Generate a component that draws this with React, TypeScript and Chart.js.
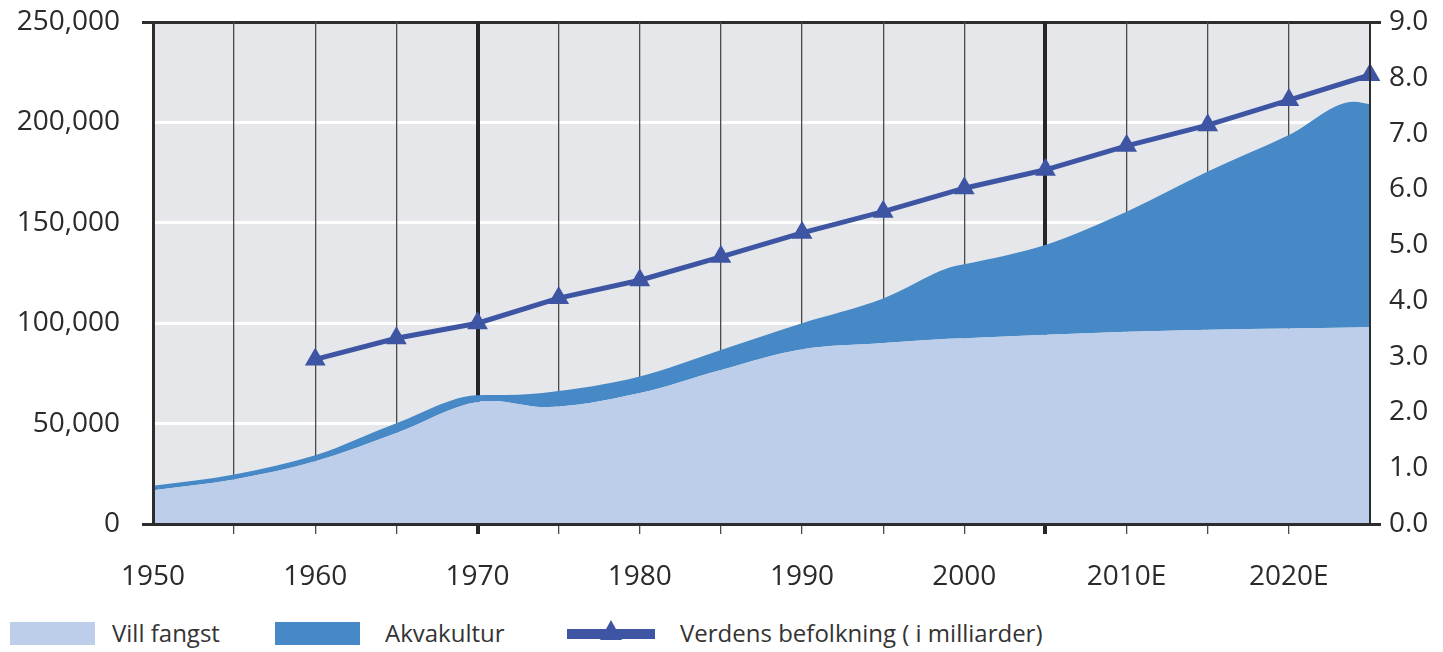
import React, { useEffect, useRef } from 'react';
import { Chart, registerables } from 'chart.js';

Chart.register(...registerables);

// ---- data ----
const fishYears = [1950, 1955, 1960, 1965, 1970, 1971, 1974, 1980, 1985, 1990, 1995, 1999, 2000, 2005, 2010, 2015, 2020, 2024, 2025];
const villFangst = [16800, 22200, 31200, 45300, 60800, 61200, 58200, 65200, 76700, 87000, 90100, 92200, 92500, 94200, 95800, 96800, 97400, 97900, 98000];
const akvakultur = [2200, 2500, 3000, 4900, 3300, 3000, 7100, 8300, 10000, 13000, 22200, 35300, 36800, 44800, 59700, 78700, 96300, 112400, 111000];

const popYears = [1960, 1965, 1970, 1975, 1980, 1985, 1990, 1995, 2000, 2005, 2010, 2015, 2020, 2025];
const befolkning = [2.95, 3.33, 3.6, 4.05, 4.37, 4.79, 5.22, 5.6, 6.02, 6.35, 6.78, 7.15, 7.6, 8.05];

const xLabelYears = [1950, 1960, 1970, 1980, 1990, 2000, 2010, 2020];
const xLabelTexts = ['1950', '1960', '1970', '1980', '1990', '2000', '2010E', '2020E'];
const markerYears = [1970, 2005];

const legendLabels = ['Vill fangst', 'Akvakultur', 'Verdens befolkning ( i milliarder)'];

// ---- style ----
const LIGHT = '#bccee9';
const DARK = '#4689c6';
const LINE = '#3e55a4';
const AXIS = '#2d2d2d';
const TEXT = '#2a2a2a';
const PLOT_BG = '#e5e7ea';
const FONT = '"Open Sans", "Noto Sans", sans-serif';

const plotBg = {
  id: 'plotBg',
  beforeDraw(chart: any) {
    const { ctx, chartArea: a } = chart;
    ctx.save();
    ctx.fillStyle = PLOT_BG;
    ctx.fillRect(a.left, a.top, a.right - a.left, a.bottom - a.top);
    ctx.restore();
  },
};

export default function App() {
  const ref = useRef<HTMLCanvasElement | null>(null);

  useEffect(() => {
    if (!ref.current) return;
    const chart = new Chart(ref.current, {
      type: 'line',
      data: {
        datasets: [
          {
            label: legendLabels[2],
            data: popYears.map((x, i) => ({ x, y: befolkning[i] })),
            yAxisID: 'y1',
            borderColor: LINE,
            backgroundColor: LINE,
            borderWidth: 5,
            pointStyle: 'triangle',
            pointRadius: 12,
            pointBorderWidth: 0,
            pointBackgroundColor: LINE,
            tension: 0,
            fill: false,
            clip: false,
          },
          {
            label: legendLabels[0],
            data: fishYears.map((x, i) => ({ x, y: villFangst[i] })),
            yAxisID: 'y',
            borderWidth: 0,
            borderColor: LIGHT,
            backgroundColor: LIGHT,
            pointRadius: 0,
            cubicInterpolationMode: 'monotone',
            fill: 'origin',
          },
          {
            label: legendLabels[1],
            data: fishYears.map((x, i) => ({ x, y: akvakultur[i] })),
            yAxisID: 'y',
            borderWidth: 0,
            borderColor: DARK,
            backgroundColor: DARK,
            pointRadius: 0,
            cubicInterpolationMode: 'monotone',
            fill: '-1',
          },
        ],
      },
      options: {
        responsive: false,
        animation: false,
        layout: { padding: { top: 22, left: 0, right: 0, bottom: 0 } },
        plugins: { legend: { display: false }, tooltip: { enabled: false } },
        scales: {
          y: {
            type: 'linear',
            position: 'left',
            stacked: true,
            min: 0,
            max: 250000,
            afterFit(s: any) { s.width = 153; s.paddingTop = 0; s.paddingBottom = 0; },
            grid: {
              z: -2,
              color: (c: any) => (c.tick && (c.tick.value === 0 || c.tick.value === 250000) ? AXIS : '#ffffff'),
              lineWidth: 3,
              tickLength: 11,
              tickColor: (c: any) => (c.tick && (c.tick.value === 0 || c.tick.value === 250000) ? AXIS : 'rgba(0,0,0,0)'),
            },
            border: { display: true, color: AXIS, width: 3, z: 1 },
            ticks: {
              stepSize: 50000,
              padding: 22,
              color: TEXT,
              font: { family: FONT, size: 28 },
              callback: (v: any) => Number(v).toLocaleString('en-US'),
            },
          },
          y1: {
            type: 'linear',
            position: 'right',
            min: 0,
            max: 9,
            afterFit(s: any) { s.width = 73; s.paddingTop = 0; s.paddingBottom = 0; },
            grid: {
              drawOnChartArea: false,
              tickLength: 11,
              lineWidth: 3,
              color: (c: any) => (c.tick && (c.tick.value === 0 || c.tick.value === 9) ? AXIS : 'rgba(0,0,0,0)'),
            },
            border: { display: true, color: AXIS, width: 2, z: 1 },
            ticks: {
              stepSize: 1,
              padding: 8,
              color: TEXT,
              font: { family: FONT, size: 28 },
              callback: (v: any) => Number(v).toFixed(1),
            },
          },
          x: {
            type: 'linear',
            min: 1950,
            max: 2025,
            afterFit(s: any) { s.height = 76; s.paddingLeft = 0; s.paddingRight = 0; },
            grid: {
              z: -1,
              tickLength: 10,
              color: (c: any) => {
                const v = c.tick ? c.tick.value : 0;
                if (v === 1950 || v === 2025) return 'rgba(0,0,0,0)';
                return markerYears.includes(v) ? '#262626' : '#4a4a4a';
              },
              lineWidth: (c: any) => {
                const v = c.tick ? c.tick.value : 0;
                return markerYears.includes(v) ? 4 : 1.3;
              },
            },
            border: { display: true, color: AXIS, width: 3, z: 1 },
            ticks: {
              stepSize: 5,
              autoSkip: false,
              maxRotation: 0,
              padding: 26,
              color: TEXT,
              font: { family: FONT, size: 28 },
              callback: (v: any) => {
                const i = xLabelYears.indexOf(Number(v));
                return i >= 0 ? xLabelTexts[i] : '';
              },
            },
          },
        },
      },
      plugins: [plotBg],
    } as any);
    return () => chart.destroy();
  }, []);

  const legendText: React.CSSProperties = {
    position: 'absolute',
    top: 614,
    height: 38,
    lineHeight: '38px',
    fontFamily: FONT,
    fontSize: 24,
    color: '#333',
    whiteSpace: 'nowrap',
  };

  return (
    <div style={{ position: 'absolute', left: 0, top: 0, width: 1443, height: 652, background: '#fff', overflow: 'hidden' }}>
      <canvas ref={ref} width={1443} height={600} style={{ position: 'absolute', left: 0, top: 0 }} />
      <div style={{ position: 'absolute', left: 10, top: 622, width: 85, height: 23, background: LIGHT }} />
      <div style={{ ...legendText, left: 112 }}>{legendLabels[0]}</div>
      <div style={{ position: 'absolute', left: 275, top: 622, width: 85, height: 23, background: DARK }} />
      <div style={{ ...legendText, left: 385 }}>{legendLabels[1]}</div>
      <div style={{ position: 'absolute', left: 567, top: 629, width: 88, height: 10, background: LINE }} />
      <div
        style={{
          position: 'absolute',
          left: 600,
          top: 620,
          width: 0,
          height: 0,
          borderLeft: '11px solid transparent',
          borderRight: '11px solid transparent',
          borderBottom: `20px solid ${LINE}`,
        }}
      />
      <div style={{ ...legendText, left: 680 }}>{legendLabels[2]}</div>
    </div>
  );
}
